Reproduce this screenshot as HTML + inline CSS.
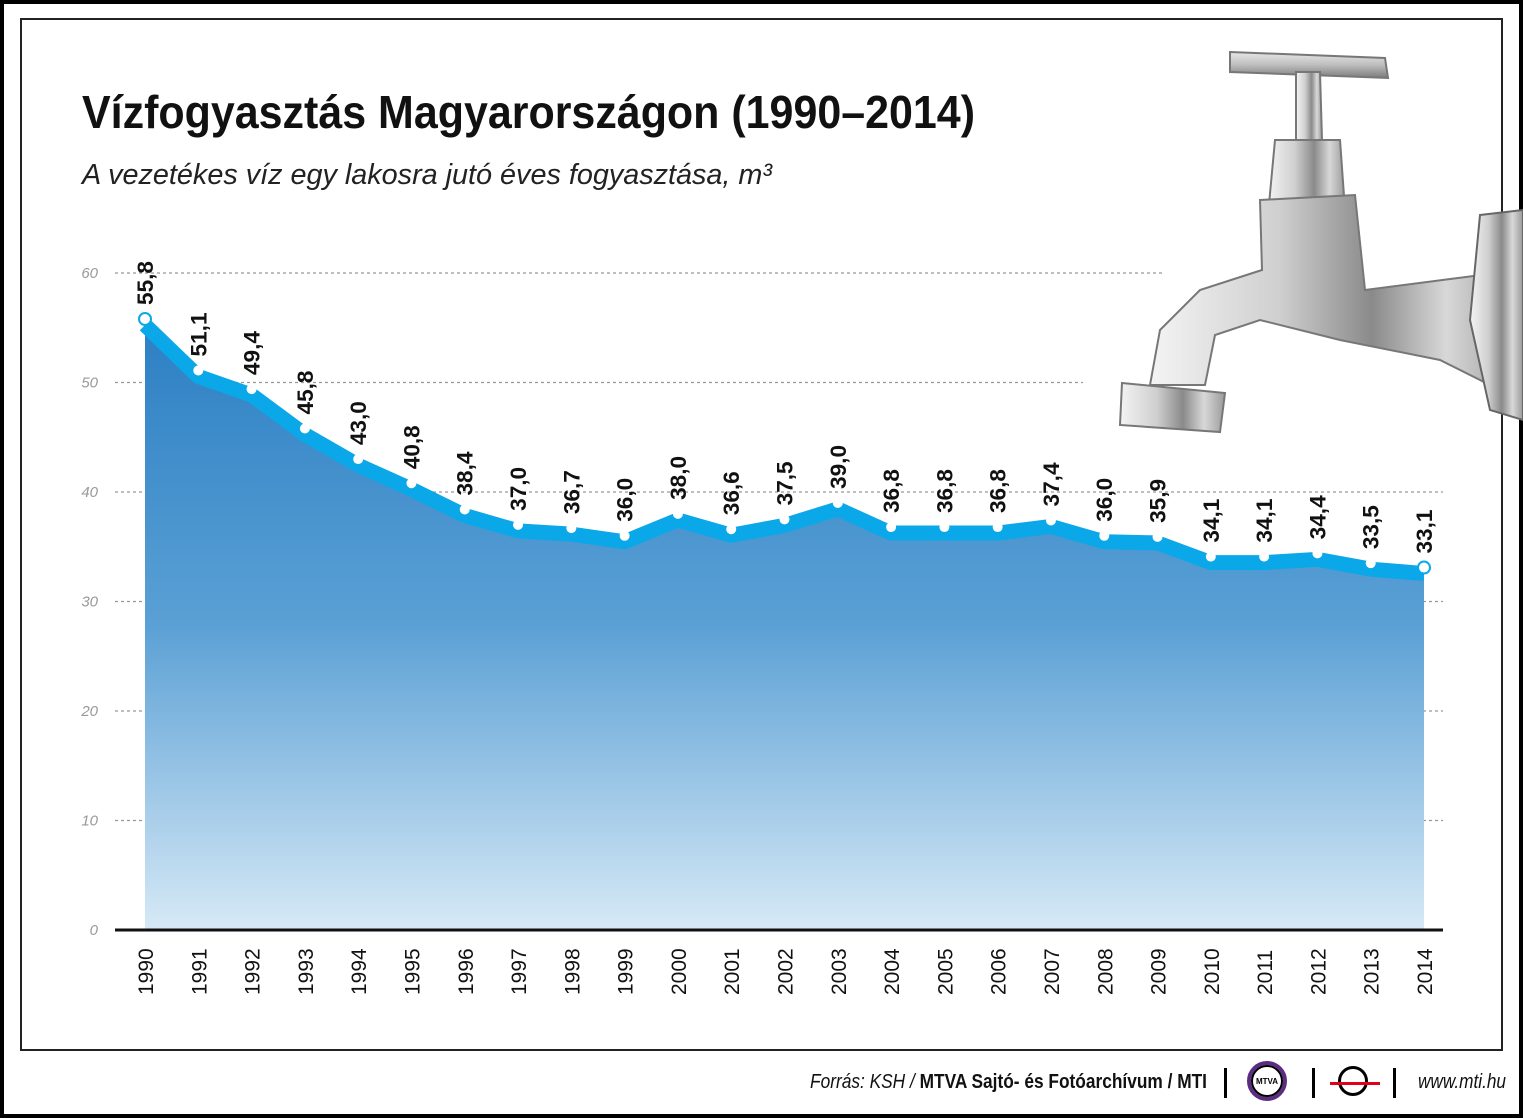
<!DOCTYPE html>
<html><head><meta charset="utf-8"><style>
body{margin:0;background:#fff;}
#wrap{position:relative;width:1523px;height:1118px;overflow:hidden;background:#fff;}
.frame{position:absolute;box-sizing:border-box;}
text{font-family:"Liberation Sans Narrow","Liberation Sans",sans-serif;}
</style></head><body>
<div id="wrap">
<div class="frame" style="left:0;top:0;width:1523px;height:1118px;border:4px solid #000;"></div>
<div class="frame" style="left:20px;top:18px;width:1483px;height:1033px;border:2px solid #222;"></div>
<svg id="chart" width="1523" height="1118" style="position:absolute;left:0;top:0">
<defs>
<linearGradient id="ag" x1="0" y1="0" x2="0" y2="1">
<stop offset="0" stop-color="#2c7fc3"/><stop offset="0.5" stop-color="#5aa0d5"/><stop offset="1" stop-color="#d7e9f6"/></linearGradient>
<linearGradient id="metal" x1="0" y1="0" x2="1" y2="0">
<stop offset="0" stop-color="#f4f4f4"/><stop offset="0.35" stop-color="#cfcfcf"/><stop offset="0.6" stop-color="#8a8a8a"/><stop offset="0.8" stop-color="#d8d8d8"/><stop offset="1" stop-color="#9a9a9a"/></linearGradient>
<linearGradient id="metalv" x1="0" y1="0" x2="0" y2="1">
<stop offset="0" stop-color="#e8e8e8"/><stop offset="0.5" stop-color="#bdbdbd"/><stop offset="1" stop-color="#7c7c7c"/></linearGradient>
</defs>
<text x="82" y="128" font-size="46" font-weight="bold" fill="#111" textLength="893" lengthAdjust="spacingAndGlyphs">Vízfogyasztás Magyarországon (1990–2014)</text>
<text x="82" y="184" font-size="29" font-style="italic" fill="#222" textLength="690" lengthAdjust="spacingAndGlyphs">A vezetékes víz egy lakosra jutó éves fogyasztása, m³</text>
<g id="grid"></g>
<g id="tap">
<path d="M1230 52 L1385 58 L1388 78 L1230 72 Z" fill="url(#metalv)" stroke="#777" stroke-width="2"/>
<path d="M1296 72 L1320 72 L1322 140 L1296 140 Z" fill="url(#metal)" stroke="#777" stroke-width="2"/>
<path d="M1275 140 L1340 140 L1345 210 L1268 215 Z" fill="url(#metal)" stroke="#777" stroke-width="2"/>
<path d="M1260 200 L1355 195 L1365 290 L1520 270 L1520 400 L1440 360 L1340 340 L1260 320 L1215 335 L1205 385 L1150 385 L1160 330 L1200 290 L1262 270 Z" fill="url(#metal)" stroke="#777" stroke-width="2"/>
<path d="M1480 215 L1523 210 L1523 420 L1490 410 L1470 320 Z" fill="url(#metal)" stroke="#666" stroke-width="2"/>
<path d="M1122 383 L1225 393 L1220 432 L1120 425 Z" fill="url(#metal)" stroke="#777" stroke-width="2"/>
</g>
<g id="area"></g><g id="band"></g><g id="pts"></g><g id="labels"></g><g id="axis"></g>
<text x="810" y="1088" font-size="20" font-style="italic" fill="#111" textLength="397" lengthAdjust="spacingAndGlyphs">Forrás: KSH / <tspan font-style="normal" font-weight="bold">MTVA Sajtó- és Fotóarchívum / MTI</tspan></text>
<text x="1418" y="1088" font-size="20" font-style="italic" fill="#111" textLength="88" lengthAdjust="spacingAndGlyphs">www.mti.hu</text>
</svg>
<div style="position:absolute;left:1224px;top:1068px;width:3px;height:30px;background:#000"></div>
<div style="position:absolute;left:1247px;top:1061px;width:40px;height:40px;border:4px solid #5b2d82;border-radius:50%;box-sizing:border-box;display:flex;align-items:center;justify-content:center;font:bold 8px 'Liberation Sans',sans-serif"><div style="border:2px solid #000;border-radius:50%;width:28px;height:28px;display:flex;align-items:center;justify-content:center">MTVA</div></div>
<div style="position:absolute;left:1312px;top:1068px;width:3px;height:30px;background:#000"></div>
<div style="position:absolute;left:1338px;top:1066px;width:30px;height:30px;border:3px solid #000;border-radius:50%;box-sizing:border-box"></div>
<div style="position:absolute;left:1330px;top:1082px;width:50px;height:3px;background:#e2001a"></div>
<div style="position:absolute;left:1393px;top:1068px;width:3px;height:30px;background:#000"></div>
</div>
<script>
const years=[1990,1991,1992,1993,1994,1995,1996,1997,1998,1999,2000,2001,2002,2003,2004,2005,2006,2007,2008,2009,2010,2011,2012,2013,2014];
const values=[55.8,51.1,49.4,45.8,43.0,40.8,38.4,37.0,36.7,36.0,38.0,36.6,37.5,39.0,36.8,36.8,36.8,37.4,36.0,35.9,34.1,34.1,34.4,33.5,33.1];
const yTicks=[0,10,20,30,40,50,60];
const NS='http://www.w3.org/2000/svg';
const x=i=>145+i*(1424-145)/24;
const y=v=>930-v*(930-273)/60;
function mk(t,a,p){const e=document.createElementNS(NS,t);for(const k in a)e.setAttribute(k,a[k]);p.appendChild(e);return e;}
const grid=document.getElementById('grid');
yTicks.forEach(t=>{
 const lbl=mk('text',{x:98,y:y(t)+5,'font-size':15,'font-style':'italic',fill:'#999','text-anchor':'end'},grid);
 lbl.textContent=t;
 
 
 if(t>0){const end=t===60?1163:(t===50?1083:1443);
 const g=mk('line',{x1:115,x2:end,y1:y(t),y2:y(t),stroke:'#999','stroke-width':1.2,'stroke-dasharray':'3,3'},grid);
 
 }
});
const pts=values.map((v,i)=>[x(i),y(v)]);
let d='M'+x(0)+' 930 '+pts.map(p=>'L'+p[0]+' '+p[1]).join(' ')+' L'+x(24)+' 930 Z';
const area=mk('path',{d:d,fill:'url(#ag)'},document.getElementById('area'));


const band=mk('polyline',{points:pts.map(p=>p[0]+','+(p[1]+6)).join(' '),fill:'none',stroke:'#0aa8e8','stroke-width':15,'stroke-linejoin':'round'},document.getElementById('band'));


values.forEach((v,i)=>{
 const c=mk('circle',{cx:x(i),cy:y(v),r:i===0||i===24?6:5,fill:'#fff',stroke:'#0aa8e8','stroke-width':i===0||i===24?2:0},document.getElementById('pts'));
 
 
 const lx=x(i)+8, ly=y(v)-14;
 const t=mk('text',{x:lx,y:ly,'font-size':22,'font-weight':'bold',fill:'#111',textLength:44,lengthAdjust:'spacingAndGlyphs',transform:`rotate(-90 ${lx} ${ly})`},document.getElementById('labels'));
 t.textContent=v.toFixed(1).replace('.',',');
 
 
 const ax=x(i)+8, ay=995;
 const yl=mk('text',{x:ax,y:ay,'font-size':21,fill:'#111',transform:`rotate(-90 ${ax} ${ay})`},document.getElementById('axis'));
 yl.textContent=years[i];
 
 
});
const axl=mk('line',{x1:115,x2:1443,y1:930,y2:930,stroke:'#111','stroke-width':3},document.getElementById('axis'));


</script>
</body></html>
